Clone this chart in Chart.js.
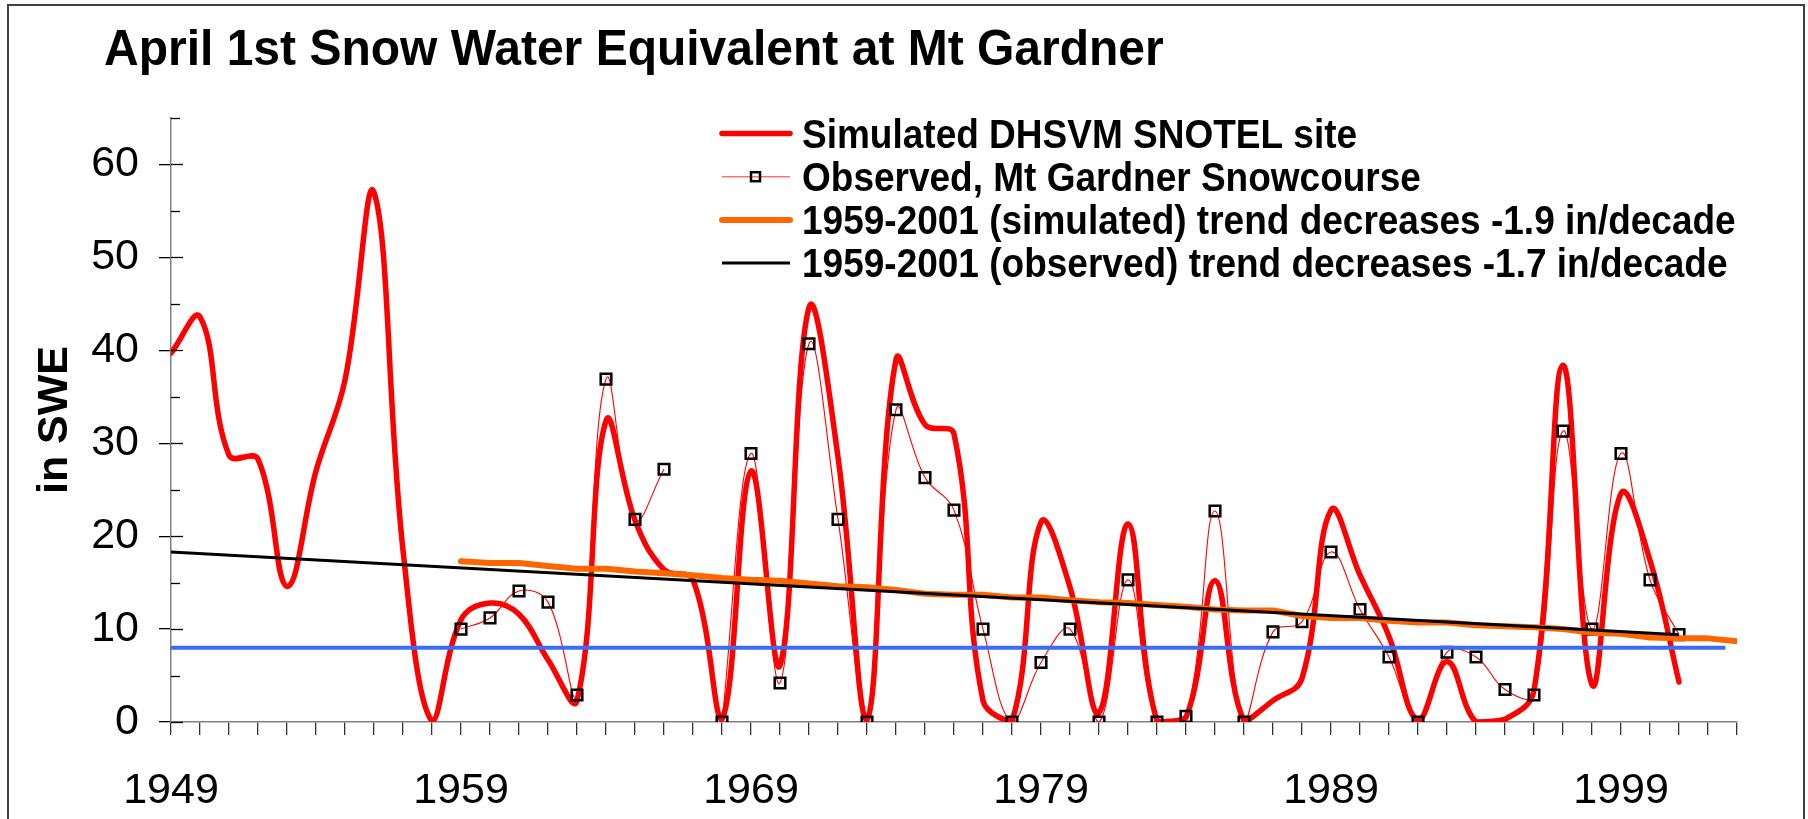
<!DOCTYPE html>
<html>
<head>
<meta charset="utf-8">
<title>April 1st Snow Water Equivalent at Mt Gardner</title>
<script src="https://cdn.jsdelivr.net/npm/chart.js@4.4.1/dist/chart.umd.min.js"></script>
<style>
  html, body { margin: 0; padding: 0; background: #fff; }
  #wrap { width: 1808px; height: 819px; }
</style>
</head>
<body>
<div id="wrap"><canvas id="sweChart" width="1808" height="819"></canvas></div>
<script>
// April 1st snow water equivalent (inches)

// Simulated DHSVM SNOTEL site, 1949-2001
var simYears = [1949, 1950, 1951, 1952, 1953, 1954, 1955, 1956, 1957, 1958,
                1959, 1960, 1961, 1962, 1963, 1964, 1965, 1966, 1967, 1968,
                1969, 1970, 1971, 1972, 1973, 1974, 1975, 1976, 1977, 1978,
                1979, 1980, 1981, 1982, 1983, 1984, 1985, 1986, 1987, 1988,
                1989, 1990, 1991, 1992, 1993, 1994, 1995, 1996, 1997, 1998,
                1999, 2000, 2001];
var simSWE = [39.7, 43.6, 28.7, 28.3, 14.6, 27.0, 36.8, 57.0, 18.5, 0.1,
              11.0, 12.8, 11.6, 6.7, 2.3, 32.4, 21.7, 16.4, 15.3, 0.3,
              27.0, 6.1, 44.6, 28.5, 0.2, 39.0, 32.0, 31.0, 2.3, 0.1,
              21.5, 14.5, 1.0, 21.3, 0.1, 0.5, 15.2, 0.1, 2.3, 4.7,
              22.8, 15.8, 9.2, 0.2, 6.5, 0.0, 0.3, 3.4, 38.4, 4.0,
              24.6, 17.4, 4.3];

// Observed, Mt Gardner snowcourse, 1959-2001 (no reading for 1967)
var obsYears = [1959, 1960, 1961, 1962, 1963, 1964, 1965, 1966, 1967, 1968,
                1969, 1970, 1971, 1972, 1973, 1974, 1975, 1976, 1977, 1978,
                1979, 1980, 1981, 1982, 1983, 1984, 1985, 1986, 1987, 1988,
                1989, 1990, 1991, 1992, 1993, 1994, 1995, 1996, 1997, 1998,
                1999, 2000, 2001];
var obsSWE = [10.0, 11.2, 14.1, 12.9, 2.9, 36.9, 21.8, 27.2, null, 0.0,
              28.9, 4.2, 40.7, 21.8, 0.0, 33.6, 26.3, 22.8, 10.0, 0.0,
              6.4, 10.0, 0.0, 15.3, 0.0, 0.6, 22.7, 0.0, 9.7, 10.8,
              18.3, 12.1, 7.0, 0.0, 7.5, 7.0, 3.5, 2.9, 31.3, 10.0,
              28.9, 15.3, 9.4];

// simulated trend line
var simTrendYears = [1959, 1960, 1961, 1962, 1963, 1964, 1965, 1966, 1967, 1968,
                     1969, 1970, 1971, 1972, 1973, 1974, 1975, 1976, 1977, 1978,
                     1979, 1980, 1981, 1982, 1983, 1984, 1985, 1986, 1987, 1988,
                     1989, 1990, 1991, 1992, 1993, 1994, 1995, 1996, 1997, 1998,
                     1999, 2000, 2001, 2002, 2003];
var simTrend = [17.3, 17.1, 17.1, 16.8, 16.5, 16.5, 16.2, 16.0, 15.8, 15.5,
                15.3, 15.2, 14.9, 14.6, 14.5, 14.2, 13.8, 13.7, 13.7, 13.4,
                13.4, 13.1, 12.9, 12.8, 12.6, 12.4, 12.1, 12.0, 12.0, 11.4,
                11.2, 11.2, 10.9, 10.7, 10.7, 10.4, 10.3, 10.2, 10.0, 9.6,
                9.5, 9.1, 9.0, 9.0, 8.7];

// observed trend line
var obsTrendYears = [1949, 2001];
var obsTrend = [18.3, 9.4];

// blue reference level
var refYears = [1949, 2002.6];
var refLevel = [8, 8];

var decadeLabels = [1949, 1959, 1969, 1979, 1989, 1999];
var sweTicks = [0, 5, 10, 15, 20, 25, 30, 35, 40, 45, 50, 55, 60, 65];
var sweLabels = [0, 10, 20, 30, 40, 50, 60];

var titleText = 'April 1st Snow Water Equivalent at Mt Gardner';
var legendLabels = [
  'Simulated DHSVM SNOTEL site',
  'Observed, Mt Gardner Snowcourse',
  '1959-2001 (simulated) trend decreases -1.9 in/decade',
  '1959-2001 (observed) trend decreases -1.7 in/decade'
];

var FONT = '"Liberation Sans", Arial, Helvetica, sans-serif';

function pts(xs, ys) {
  return xs.map(function (x, i) { return { x: x, y: ys[i] }; });
}

// the original text is a little taller than plain Arial
function tallText(c, txt, x, y, sy) {
  c.save();
  c.translate(x, y);
  c.scale(1, sy);
  c.fillText(txt, 0, 0);
  c.restore();
}

// title, legend, inner y ticks and the outer frame
var decorPlugin = {
  id: 'decor',
  beforeDraw: function (chart) {
    var c = chart.ctx;
    c.save();
    c.fillStyle = '#fff';
    c.fillRect(0, 0, chart.width, chart.height);
    c.restore();
  },
  afterDraw: function (chart) {
    var c = chart.ctx;
    var ys = chart.scales.y;
    c.save();

    // tick marks inside the y axis
    c.strokeStyle = '#000';
    c.lineWidth = 1.3;
    sweTicks.forEach(function (v) {
      var py = Math.round(ys.getPixelForValue(v)) + 0.5;
      var len = sweLabels.indexOf(v) >= 0 ? 12 : 9;
      c.beginPath();
      c.moveTo(ys.right, py);
      c.lineTo(ys.right + len, py);
      c.stroke();
    });

    c.fillStyle = '#000';
    c.textAlign = 'left';
    c.textBaseline = 'alphabetic';
    c.font = 'bold 48px ' + FONT;
    tallText(c, titleText, 104, 65, 1.05);

    // legend
    var ds = chart.data.datasets;
    c.font = 'bold 37px ' + FONT;
    for (var i = 0; i < legendLabels.length; i++) {
      var d = ds[i];
      var ly = 133.5 + i * 43.2;
      c.strokeStyle = i === 1 ? '#ff7070' : d.borderColor;
      c.lineWidth = i === 1 ? 1.6 : d.borderWidth;
      c.lineCap = d.borderCapStyle || 'butt';
      c.beginPath();
      c.moveTo(722, ly);
      c.lineTo(790, ly);
      c.stroke();
      if (i === 1) {
        c.lineWidth = 2.5;
        c.strokeStyle = '#000';
        c.strokeRect(751, ly - 4.5, 9, 9);
      }
      c.fillStyle = '#000';
      tallText(c, legendLabels[i], 802, ly + 14, 1.08);
    }

    // outer frame
    c.lineCap = 'butt';
    c.strokeStyle = '#404040';
    c.lineWidth = 2;
    c.strokeRect(8, 5, 1796, 840);
    c.restore();
  }
};

var ctx = document.getElementById('sweChart').getContext('2d');
var sweChart = new Chart(ctx, {
  type: 'line',
  data: {
    datasets: [{
      label: legendLabels[0],
      data: pts(simYears, simSWE),
      borderColor: '#ff0000',
      borderWidth: 5.5,
      borderCapStyle: 'round',
      borderJoinStyle: 'round',
      tension: 0.4,
      pointRadius: 0,
      order: 5
    }, {
      label: legendLabels[1],
      data: pts(obsYears, obsSWE),
      borderColor: '#ff0000',
      borderWidth: 1.1,
      tension: 0.4,
      spanGaps: false,
      pointStyle: 'rect',
      pointRadius: 7.5,
      pointBorderWidth: 2.5,
      pointBorderColor: '#000',
      pointBackgroundColor: 'rgba(0,0,0,0)',
      order: 4
    }, {
      label: legendLabels[2],
      data: pts(simTrendYears, simTrend),
      borderColor: '#ff6600',
      borderWidth: 6,
      borderCapStyle: 'round',
      borderJoinStyle: 'round',
      tension: 0,
      pointRadius: 0,
      order: 3
    }, {
      label: legendLabels[3],
      data: pts(obsTrendYears, obsTrend),
      borderColor: '#000000',
      borderWidth: 3,
      tension: 0,
      pointRadius: 0,
      order: 2
    }, {
      label: 'reference',
      data: pts(refYears, refLevel),
      borderColor: '#3b6cf5',
      borderWidth: 4,
      tension: 0,
      pointRadius: 0,
      order: 1
    }]
  },
  options: {
    responsive: false,
    devicePixelRatio: 1,
    animation: false,
    layout: { padding: { top: 118, right: 71, bottom: 0, left: 0 } },
    plugins: {
      legend: { display: false },
      title: { display: false },
      tooltip: { enabled: false }
    },
    scales: {
      x: {
        type: 'linear',
        min: 1949,
        max: 2003,
        afterBuildTicks: function (s) {
          var t = [];
          for (var yr = s.min; yr <= s.max; yr++) t.push({ value: yr });
          s.ticks = t;
        },
        afterFit: function (s) { s.height = 97; },
        ticks: {
          autoSkip: false,
          maxRotation: 0,
          padding: 30,
          color: '#000',
          font: { family: FONT, size: 43 },
          callback: function (v) {
            return decadeLabels.indexOf(v) >= 0 ? String(v) : '';
          }
        },
        grid: { drawOnChartArea: false, tickLength: 13, color: '#333', lineWidth: 1.3 },
        border: { color: '#808080', width: 1.5 }
      },
      y: {
        min: 0,
        max: 65,
        afterBuildTicks: function (s) {
          s.ticks = sweTicks.map(function (v) { return { value: v }; });
        },
        afterFit: function (s) { s.width = 171; },
        ticks: {
          autoSkip: false,
          padding: 20,
          color: '#000',
          font: { family: FONT, size: 43 },
          callback: function (v) {
            return sweLabels.indexOf(v) >= 0 ? String(v) : '';
          }
        },
        grid: {
          drawOnChartArea: false,
          tickLength: 12,
          lineWidth: 1.3,
          color: function (c) {
            return c.tick && sweLabels.indexOf(c.tick.value) >= 0 ? '#000' : 'rgba(0,0,0,0)';
          }
        },
        border: { color: '#808080', width: 1.5 },
        title: {
          display: true,
          text: 'in SWE',
          color: '#000',
          font: { family: FONT, size: 43, weight: 'bold' },
          padding: { top: 29, bottom: 0 }
        }
      }
    }
  },
  plugins: [decorPlugin]
});
</script>
</body>
</html>
